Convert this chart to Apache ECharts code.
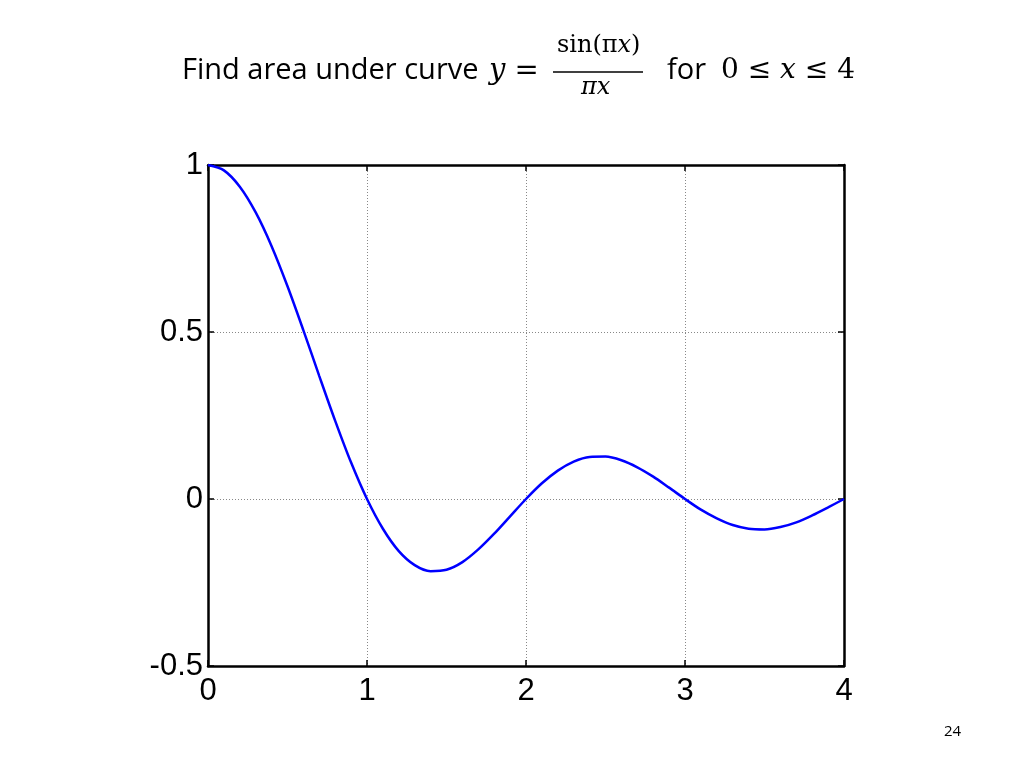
<!DOCTYPE html>
<html><head><meta charset="utf-8">
<script src="https://cdn.jsdelivr.net/npm/echarts@6/dist/echarts.min.js"></script>
<style>html,body{margin:0;padding:0;background:#fff}#c{width:1024px;height:768px}</style>
</head><body><div id="c"></div>
<script>
// x positions and curve values
const xValues = [0,0.1,0.2,0.3,0.4,0.5,0.6,0.7,0.8,0.9,1.0,1.1,1.2,1.3,1.4,1.5,1.6,1.7,1.8,1.9,2.0,2.1,2.2,2.3,2.4,2.5,2.6,2.7,2.8,2.9,3.0,3.1,3.2,3.3,3.4,3.5,3.6,3.7,3.8,3.9,4.0];
const yValues = [1,0.984,0.935,0.858,0.757,0.637,0.505,0.368,0.234,0.109,0,-0.089,-0.156,-0.198,-0.216,-0.212,-0.189,-0.151,-0.104,-0.052,0,0.047,0.085,0.112,0.126,0.127,0.116,0.095,0.067,0.034,0,-0.032,-0.058,-0.078,-0.089,-0.091,-0.084,-0.070,-0.049,-0.025,0];
const xTicks = [0,1,2,3,4];
const yTicks = [-0.5,0,0.5,1];
const pageNumber = '24';

const chart = echarts.init(document.getElementById('c'));
const points = xValues.map((x,i)=>[x,yValues[i]]);
const tickFont = {fontFamily:'Liberation Sans, Arial, sans-serif', fontSize:31, color:'#000'};
const mathFont = 'DejaVu Serif, Liberation Serif, serif';
const textFont = 'Open Sans, Lato, sans-serif';
chart.setOption({
  animation:false,
  backgroundColor:'#fff',
  grid:{left:208,right:180,top:165,bottom:102,containLabel:false},
  xAxis:[{type:'value',min:0,max:4,interval:1,
    axisLine:{show:true,onZero:false,lineStyle:{color:'#000',width:2.5}},
    axisTick:{inside:true,length:6,lineStyle:{color:'#000',width:1.5}},
    axisLabel:Object.assign({margin:10,formatter:v=>String(v)},tickFont),
    splitLine:{show:true,lineStyle:{color:'#888',type:[1,2],width:1}}},
   {type:'value',min:0,max:4,interval:1,position:'top',
    axisLine:{show:true,onZero:false,lineStyle:{color:'#000',width:2.5}},
    axisTick:{inside:true,length:6,lineStyle:{color:'#000',width:1.5}},
    axisLabel:{show:false},splitLine:{show:false}}],
  yAxis:[{type:'value',min:-0.5,max:1,interval:0.5,
    axisLine:{show:true,onZero:false,lineStyle:{color:'#000',width:2.5}},
    axisTick:{inside:true,length:6,lineStyle:{color:'#000',width:1.5}},
    axisLabel:Object.assign({margin:5,formatter:v=>String(v)},tickFont),
    splitLine:{show:true,lineStyle:{color:'#888',type:[1,2],width:1}}},
   {type:'value',min:-0.5,max:1,interval:0.5,position:'right',
    axisLine:{show:true,onZero:false,lineStyle:{color:'#000',width:2.5}},
    axisTick:{inside:true,length:6,lineStyle:{color:'#000',width:1.5}},
    axisLabel:{show:false},splitLine:{show:false}}],
  series:[{type:'line',data:points,smooth:0.3,showSymbol:false,
    lineStyle:{color:'#0000ff',width:2.5},z:5}],
  graphic:[
    {type:'text',left:182,top:56,style:{text:'Find area under curve',font:'29px '+textFont,fill:'#000'}},
    {type:'text',left:489,top:57,style:{text:'y =',font:'italic 29px '+mathFont,fill:'#000'}},
    {type:'text',left:557,top:34,style:{text:'{n|sin(π}{i|x}{n|)}',rich:{n:{font:'24px '+mathFont,fill:'#000'},i:{font:'italic 24px '+mathFont,fill:'#000'}}}},
    {type:'line',shape:{x1:553,y1:72,x2:643,y2:72},style:{stroke:'#000',lineWidth:1.5}},
    {type:'text',left:581,top:76,style:{text:'πx',font:'italic 24px '+mathFont,fill:'#000'}},
    {type:'text',left:667,top:56,style:{text:'for',font:'29px '+textFont,fill:'#000'}},
    {type:'text',left:721,top:57,style:{text:'{n|0 ≤ }{i|x}{n| ≤ 4}',rich:{n:{font:'28px '+mathFont,fill:'#000'},i:{font:'italic 28px '+mathFont,fill:'#000'}}}},
    {type:'text',left:944,top:724,style:{text:pageNumber,font:'15px '+textFont,fill:'#000'}}
  ]
});
</script></body></html>
